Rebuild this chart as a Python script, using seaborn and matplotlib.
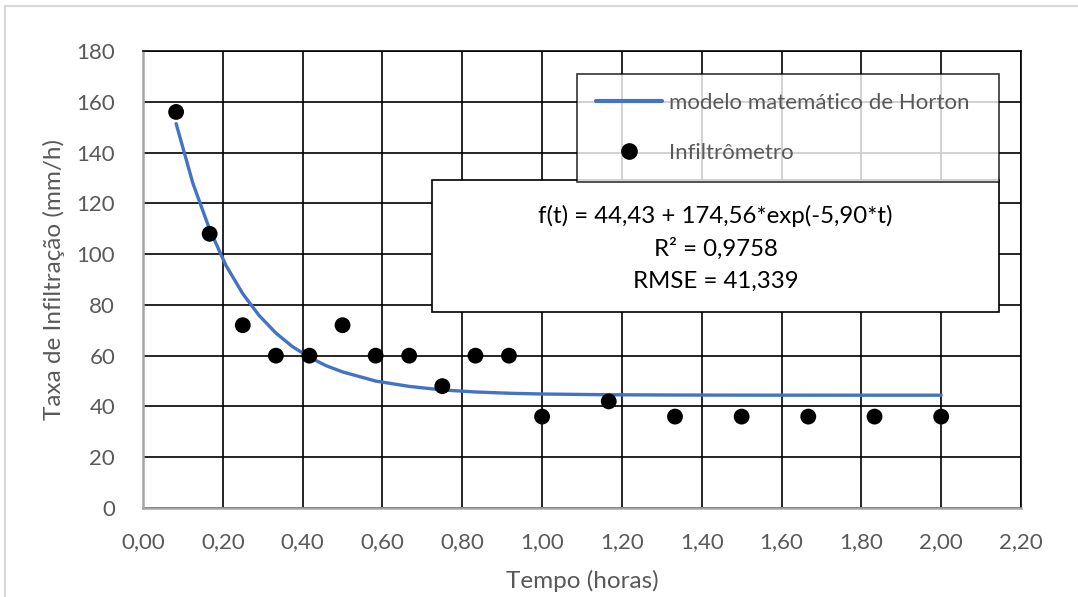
import numpy as np
import pandas as pd
import matplotlib
matplotlib.use("Agg")
import matplotlib.pyplot as plt
import seaborn as sns
from matplotlib.patches import Rectangle
from matplotlib.lines import Line2D

# Observed data (Infiltrômetro)
tempo_obs = [0.083, 0.167, 0.25, 0.333, 0.417, 0.5, 0.583, 0.667, 0.75, 0.833,
             0.917, 1.0, 1.167, 1.333, 1.5, 1.667, 1.833, 2.0]
taxa_obs = [156, 108, 72, 60, 60, 72, 60, 60, 48, 60, 60, 36, 42, 36, 36, 36, 36, 36]

# Horton model curve
tempo_mod = [0.083, 0.125, 0.167, 0.208, 0.25, 0.29, 0.333, 0.375, 0.417, 0.458,
             0.5, 0.583, 0.667, 0.75, 0.833, 0.917, 1.0, 1.167, 1.333, 1.5,
             1.667, 1.833, 2.0]
taxa_mod = [151.4, 127.9, 109.7, 95.5, 84.4, 76.0, 68.9, 63.5, 59.4, 56.1,
            53.6, 50.0, 47.9, 46.5, 45.7, 45.2, 44.9, 44.6, 44.5, 44.45,
            44.44, 44.43, 44.43]

x_ticks = [0.0, 0.2, 0.4, 0.6, 0.8, 1.0, 1.2, 1.4, 1.6, 1.8, 2.0, 2.2]
x_ticklabels = ["0,00", "0,20", "0,40", "0,60", "0,80", "1,00", "1,20", "1,40",
                "1,60", "1,80", "2,00", "2,20"]
y_ticks = [0, 20, 40, 60, 80, 100, 120, 140, 160, 180]

eq_lines = ["f(t) = 44,43 + 174,56*exp(-5,90*t)", "R² = 0,9758", "RMSE = 41,339"]
label_model = "modelo matemático de Horton"
label_obs = "Infiltrômetro"

sns.set_style("white")
plt.rcParams['font.family'] = ['Lato', 'DejaVu Sans']

W, H = 1078, 597
fig = plt.figure(figsize=(W / 100, H / 100), dpi=100)
ax = fig.add_axes([143 / W, 1 - 508 / H, (1021 - 143) / W, (508 - 51) / H])

# outer chart border (light gray)
fig.add_artist(Rectangle((5 / W, -0.1), 1.2, 1.1 - 6 / H, transform=fig.transFigure,
                         fill=False, edgecolor="#D9D9D9", linewidth=1.5))

df_mod = pd.DataFrame({"t": tempo_mod, "f": taxa_mod})
df_obs = pd.DataFrame({"t": tempo_obs, "f": taxa_obs})

sns.lineplot(data=df_mod, x="t", y="f", ax=ax, color="#4472C4", linewidth=2.4,
             zorder=3, legend=False)
sns.scatterplot(data=df_obs, x="t", y="f", ax=ax, color="black", s=130,
                edgecolor="none", zorder=4, legend=False)

ax.set_xlim(0, 2.2)
ax.set_ylim(0, 180)
ax.set_xticks(x_ticks)
ax.set_xticklabels(x_ticklabels)
ax.set_yticks(y_ticks)
ax.grid(True, color="black", linewidth=1.2)
ax.set_axisbelow(True)
ax.tick_params(axis="both", length=0, labelsize=16, labelcolor="#595959")
ax.tick_params(axis="x", pad=17)
ax.tick_params(axis="y", pad=20)

for side in ["top", "right"]:
    ax.spines[side].set_visible(True)
    ax.spines[side].set_color("black")
    ax.spines[side].set_linewidth(1.2)
for side in ["left", "bottom"]:
    ax.spines[side].set_color("#A6A6A6")
    ax.spines[side].set_linewidth(1.8)

ax.set_xlabel("Tempo (horas)", fontsize=17.5, color="#595959", labelpad=13)
ax.set_ylabel("Taxa de Infiltração (mm/h)", fontsize=17.5, color="#595959", labelpad=8)

# legend
handles = [Line2D([0], [0], color="#4472C4", linewidth=3),
           Line2D([0], [0], marker="o", linestyle="none", color="black", markersize=11)]
leg = ax.legend(handles, [label_model, label_obs], loc="upper left",
                bbox_to_anchor=(0.494, 0.729, 0.481, 0.221), mode="expand",
                borderaxespad=0, frameon=True, fancybox=False, fontsize=16,
                labelcolor="#595959", handlelength=3.0, handletextpad=0.3,
                labelspacing=1.35, borderpad=0.85)
leg.get_frame().set_edgecolor("black")
leg.get_frame().set_linewidth(1.2)
leg.set_zorder(6)

# equation box
ax.add_patch(Rectangle((0.329, 0.4289), 0.975 - 0.329, 0.7177 - 0.4289,
                       transform=ax.transAxes, facecolor="white", edgecolor="black",
                       linewidth=1.2, zorder=5))
for yy, txt in zip([0.639, 0.567, 0.497], eq_lines):
    ax.text(0.652, yy, txt, transform=ax.transAxes, ha="center", va="center",
            fontsize=17.3, color="black", zorder=7)

fig.savefig("out.png", dpi=100)
